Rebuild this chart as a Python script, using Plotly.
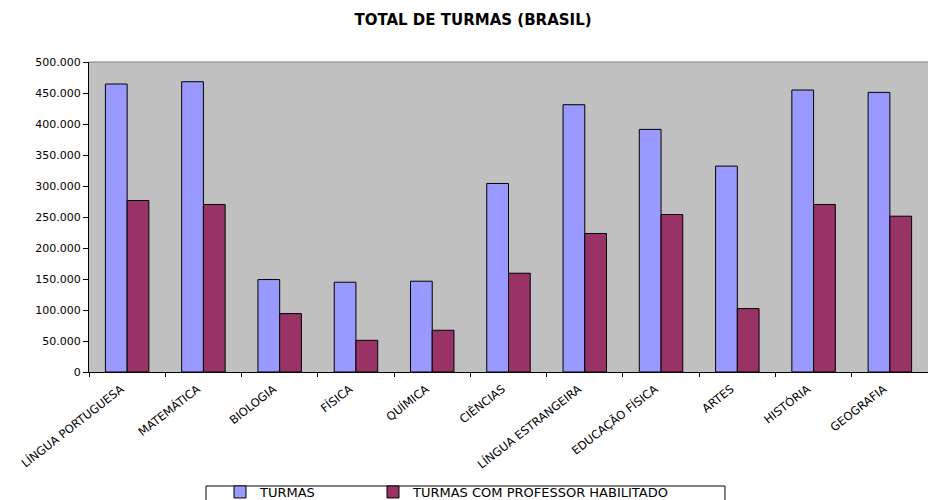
import plotly.graph_objects as go

# Subjects (categories) and number of classes per subject
disciplinas = [
    "LÍNGUA PORTUGUESA", "MATEMÁTICA", "BIOLOGIA", "FÍSICA", "QUÍMICA",
    "CIÊNCIAS", "LÍNGUA ESTRANGEIRA", "EDUCAÇÃO FÍSICA", "ARTES",
    "HISTÓRIA", "GEOGRAFIA",
]
turmas = [464500, 468200, 149100, 144800, 146400, 304100,
          431100, 391300, 332100, 454800, 451000]
turmas_habilitado = [276600, 270200, 94200, 51100, 67300, 159300,
                     223400, 254000, 102300, 270200, 251300]

y_ticks = list(range(0, 500001, 50000))

FONT = "DejaVu Sans"

fig = go.Figure()
fig.add_trace(go.Bar(
    x=disciplinas, y=turmas, name="TURMAS", legend="legend",
    marker=dict(color="#9999FF", line=dict(color="#000000", width=1)),
))
fig.add_trace(go.Bar(
    x=disciplinas, y=turmas_habilitado, name="TURMAS COM PROFESSOR HABILITADO",
    legend="legend2",
    marker=dict(color="#993366", line=dict(color="#000000", width=1)),
))

# plot area geometry in pixels
L, T, B, W, H = 89, 62, 128, 928, 500
pw = W - L
ph = H - T - B

def px_x(x):
    return (x - L) / pw

def px_y(y):
    return (H - B - y) / ph

legend_common = dict(
    orientation="h",
    xanchor="left",
    y=px_y(477), yanchor="top",
    bgcolor="rgba(0,0,0,0)",
    borderwidth=0,
    font=dict(family=FONT, size=13, color="#000000"),
)

fig.update_layout(
    width=W, height=H,
    margin=dict(l=L, r=0, t=T, b=B, autoexpand=False),
    paper_bgcolor="#FFFFFF",
    plot_bgcolor="#C0C0C0",
    separators=",.",
    barmode="group",
    bargap=0.43,
    bargroupgap=0,
    font=dict(family=FONT, color="#000000", size=11),
    title=dict(
        text="<b>TOTAL DE TURMAS (BRASIL)</b>",
        x=473 / W, xref="container", xanchor="center",
        y=1 - 20 / H, yref="container", yanchor="middle",
        font=dict(family=FONT, size=15, color="#000000"),
    ),
    xaxis=dict(
        type="category",
        automargin=False,
        tickangle=-38,
        ticks="outside", ticklen=4, tickcolor="#000000",
        tickson="boundaries",
        ticklabelshift=-6,
        ticklabelstandoff=5,
        showline=True, linecolor="#000000", linewidth=1,
        showgrid=False, zeroline=False,
        tickfont=dict(family=FONT, size=11.5, color="#000000"),
    ),
    yaxis=dict(
        automargin=False,
        range=[0, 500000],
        tickvals=y_ticks,
        tickformat=",d",
        ticks="outside", ticklen=5, tickcolor="#000000",
        showline=True, linecolor="#000000", linewidth=1,
        showgrid=False, zeroline=False,
        tickfont=dict(family=FONT, size=11, color="#000000"),
    ),
    showlegend=True,
    legend=dict(legend_common, x=px_x(220)),
    legend2=dict(legend_common, x=px_x(373)),
    shapes=[
        # gray frame line along the top of the plot area
        dict(type="line", xref="paper", yref="paper", x0=0, x1=1, y0=1, y1=1,
             line=dict(color="#808080", width=1)),
        # legend frame
        dict(type="rect", xref="paper", yref="paper",
             x0=px_x(206), x1=px_x(725), y0=px_y(486), y1=px_y(512),
             line=dict(color="#000000", width=1), fillcolor="rgba(0,0,0,0)"),
    ],
)

fig.write_html("out.html")
